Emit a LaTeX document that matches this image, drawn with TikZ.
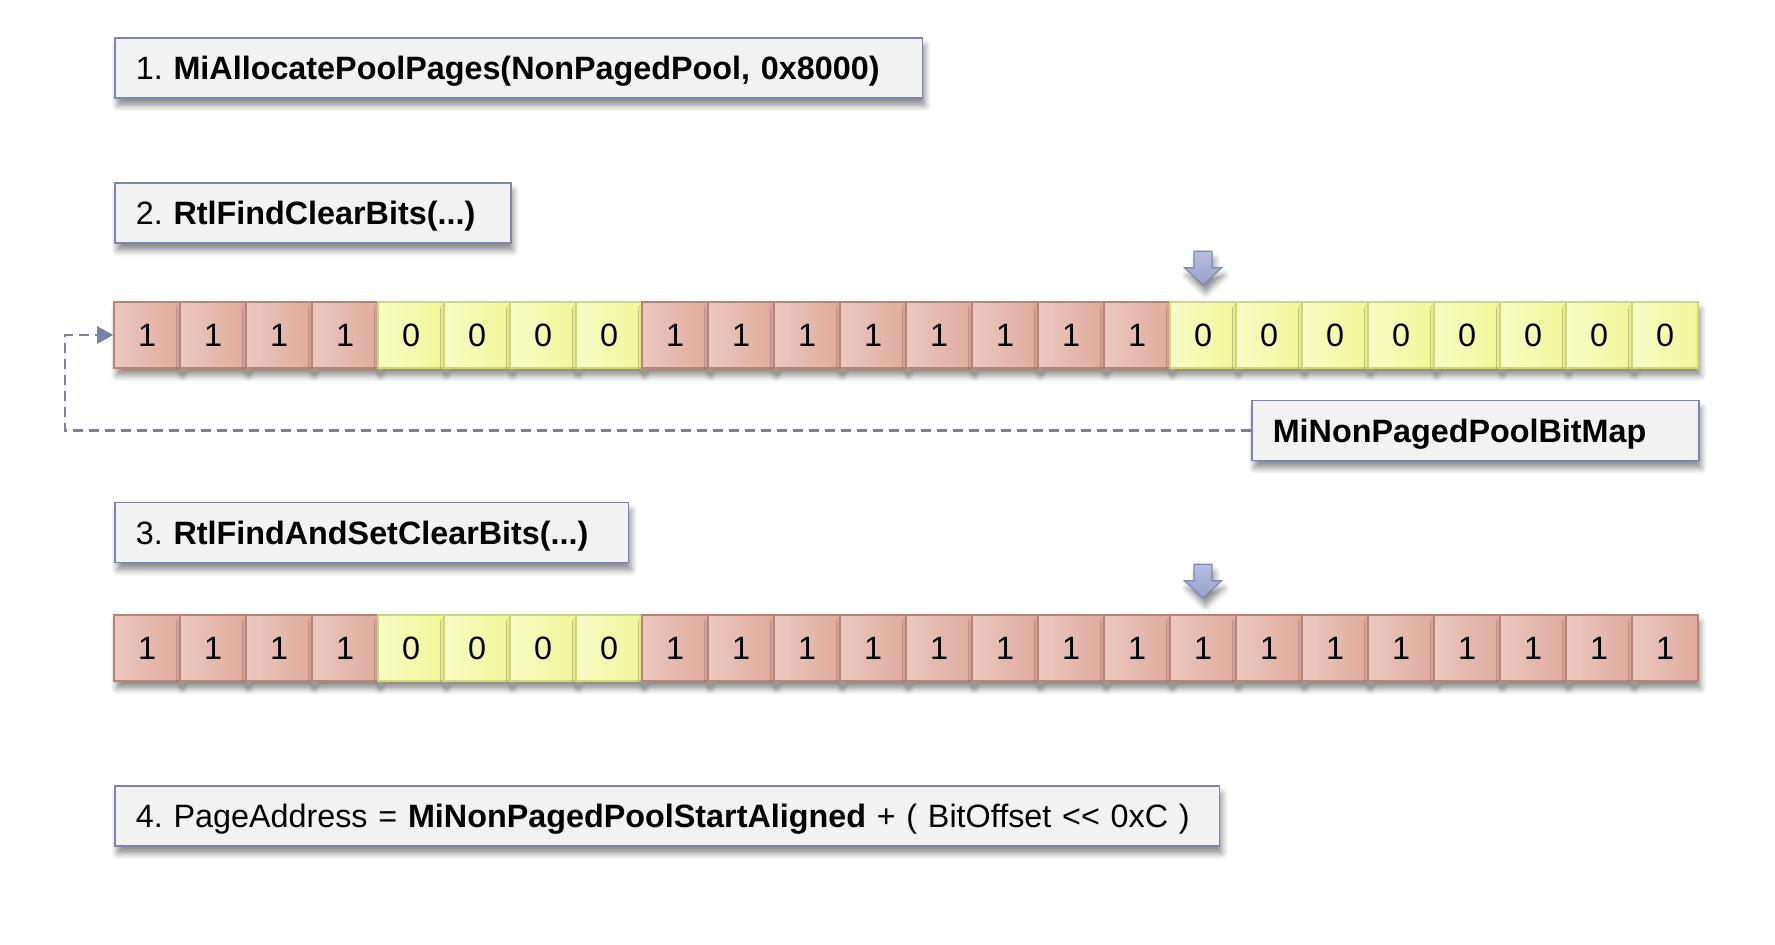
\documentclass[tikz,border=0pt]{standalone}
\usepackage{fontspec}
\setmainfont{Liberation Sans}
\usetikzlibrary{arrows.meta,shadows.blur}

\definecolor{boxfill}{HTML}{F2F2F2}
\definecolor{boxline}{HTML}{7D84AD}
\definecolor{oneleft}{HTML}{EBC8BF}
\definecolor{oneright}{HTML}{E0AA9D}
\definecolor{oneline}{HTML}{B98376}
\definecolor{zeroleft}{HTML}{F7FBC6}
\definecolor{zeroright}{HTML}{F1F797}
\definecolor{zeroline}{HTML}{D0D778}
\definecolor{pointtop}{HTML}{B7BDDF}
\definecolor{pointbottom}{HTML}{98A0CA}
\definecolor{pointline}{HTML}{7F87B3}
\definecolor{linkline}{HTML}{7880A8}

\tikzset{
    softshadow/.style={blur shadow={shadow xshift=0.05cm, shadow yshift=-0.15cm,
        shadow blur radius=0.12cm, shadow opacity=45}},
    callbox/.style={draw=boxline, line width=0.9pt, fill=boxfill, anchor=west,
        align=left, inner xsep=0.42cm, minimum height=1.2cm, text width=#1,
        text height=16.5pt, text depth=3.3pt, softshadow},
    cell/.style={minimum width=1.32cm, minimum height=1.32cm, inner sep=0pt,
        line width=0.9pt, softshadow},
    bit1/.style={cell, draw=oneline, left color=oneleft, right color=oneright},
    bit0/.style={cell, draw=zeroline, left color=zeroleft, right color=zeroright},
    pointer/.pic={
        \path[draw=pointline, line width=0.7pt, top color=pointtop, bottom color=pointbottom, softshadow]
            (-9,-34) -- (9,-34) -- (9,-17.5) -- (18.5,-17.5) -- (0,0) -- (-18.5,-17.5) -- (-9,-17.5) -- cycle;
    }
}

\begin{document}
\begin{tikzpicture}[x=0.02cm, y=-0.02cm, every node/.style={font=\fontsize{18.4}{22}\selectfont\frenchspacing}]
        \useasboundingbox (0,0) rectangle (1775,944);

        % Steps
        \node[callbox=15.32cm] (alloc) at (114,68) {1. \textbf{MiAllocatePoolPages(NonPagedPool, 0x8000)}};
        \node[callbox=7.08cm] (find) at (114,213) {2. \textbf{RtlFindClearBits(...)}};
        \node[callbox=9.44cm] (findset) at (114,532.5) {3. \textbf{RtlFindAndSetClearBits(...)}};
        \node[callbox=21.26cm] (page) at (114,816) {4. PageAddress = \textbf{MiNonPagedPoolStartAligned} + ( BitOffset {<}{<} 0xC )};
        \node[callbox=8.1cm] (map) at (1251,430.5) {\textbf{MiNonPagedPoolBitMap}};

        % Bitmaps
        \foreach \b [count=\i] in {1,1,1,1,0,0,0,0,1,1,1,1,1,1,1,1,0,0,0,0,0,0,0,0}
            \node[bit\b] (A\i) at ({114+66*(\i-0.5)},335) {\b};
        \foreach \b [count=\i] in {1,1,1,1,0,0,0,0,1,1,1,1,1,1,1,1,1,1,1,1,1,1,1,1}
            \node[bit\b] (B\i) at ({114+66*(\i-0.5)},648) {\b};

        % Arrows
        \pic at ([yshift=0.32cm]A17.north) {pointer};
        \pic at ([yshift=0.32cm]B17.north) {pointer};
        \coordinate (bend) at (65,430.5);
        \draw[linkline, line width=1.5pt, dash pattern=on 0.2cm off 0.12cm,
            -{Triangle[length=0.32cm, width=0.34cm, sep=0pt]}] (map.west) -- (bend) |- (A1.west);
    \end{tikzpicture}
\end{document}
